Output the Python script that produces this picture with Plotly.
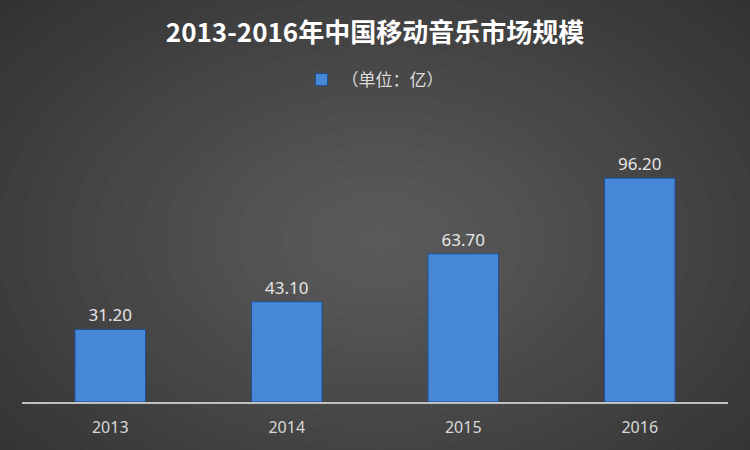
import plotly.graph_objects as go

years = ["2013", "2014", "2015", "2016"]
values = [31.20, 43.10, 63.70, 96.20]
value_labels = ["31.20", "43.10", "63.70", "96.20"]
series_name = "（单位：亿）"
title_text = "2013-2016年中国移动音乐市场规模"

W, H = 750, 450
ML, MR, MT, MB = 22, 22, 146, 48
PW, PH = W - ML - MR, H - MT - MB

def px_to_paper_x(x):
    return (x - ML) / PW

def px_to_paper_y(y):
    return (H - MB - y) / PH

fig = go.Figure()
fig.add_trace(go.Bar(
    x=years, y=values, name=series_name,
    text=value_labels, textposition="outside",
    textfont=dict(size=17, color="#e6e6e6", family="Noto Sans, DejaVu Sans"),
    marker=dict(color="#4687d8", line=dict(color="#1f4f8f", width=1)),
    showlegend=True, cliponaxis=False,
))

# radial-ish background glow
shapes = []
N = 26
cx, cy = 380, 240
for i in range(N):
    f = 1 - i / N
    rx, ry = 620 * f, 420 * f
    shapes.append(dict(
        type="circle", xref="paper", yref="paper", layer="below",
        x0=px_to_paper_x(cx - rx), x1=px_to_paper_x(cx + rx),
        y0=px_to_paper_y(cy + ry), y1=px_to_paper_y(cy - ry),
        fillcolor="rgba(255,255,255,0.0105)", line=dict(width=0),
    ))

fig.update_layout(
    width=W, height=H,
    margin=dict(l=ML, r=MR, t=MT, b=MB),
    paper_bgcolor="#282828", plot_bgcolor="rgba(0,0,0,0)",
    shapes=shapes,
    bargap=0.6,
    title=dict(text="<b>" + title_text + "</b>", x=0.5, xanchor="center",
               y=1 - 33 / H, yanchor="middle",
               font=dict(size=26, color="#ffffff", family="Noto Sans CJK SC")),
    legend=dict(orientation="h", x=0.5, xanchor="center",
                y=px_to_paper_y(80), yanchor="middle",
                font=dict(size=17, color="#dcdcdc", family="Noto Sans CJK SC"),
                bgcolor="rgba(0,0,0,0)", itemwidth=30),
    xaxis=dict(showline=True, linecolor="#c0c0c0", linewidth=2,
               showgrid=False, ticks="", zeroline=False, ticklabelstandoff=10,
               tickfont=dict(size=16, color="#d9d9d9", family="Noto Sans, DejaVu Sans")),
    yaxis=dict(range=[0, 110], visible=False, showgrid=False, zeroline=False),
    font=dict(family="Noto Sans CJK SC"),
)

fig.write_html("out.html", config={"displayModeBar": False},
               post_script="document.body.style.margin='0';")
